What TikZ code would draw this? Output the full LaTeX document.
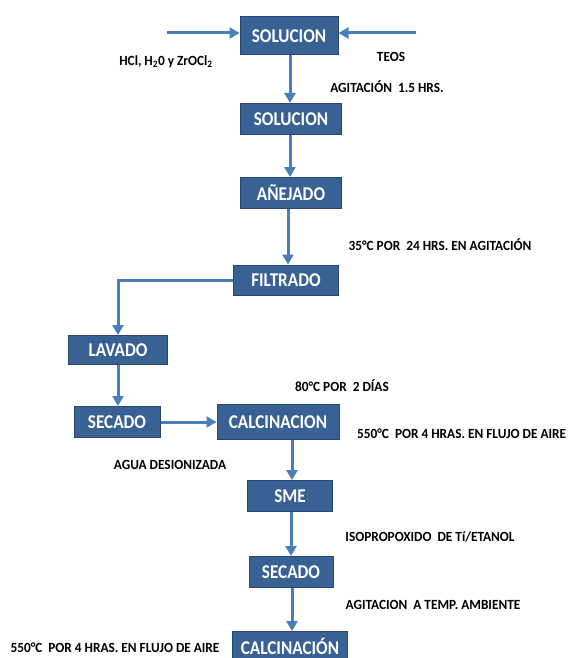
\documentclass[tikz,border=0pt]{standalone}
\usepackage{fontspec}
\usepackage{graphicx}
\setmainfont{Carlito}
\usetikzlibrary{arrows.meta}
\definecolor{boxfill}{RGB}{56,97,148}
\definecolor{boxline}{RGB}{40,72,115}
\definecolor{arrowblue}{RGB}{74,126,187}
\newcommand{\bxt}[1]{\scalebox{0.88}[1]{#1}}
\newcommand{\lbt}[1]{\scalebox{0.95}[1]{#1}}
\tikzset{
  stepbox/.style={draw=boxline, line width=1pt, fill=boxfill, text=white,
    font=\fontsize{19.5}{22}\selectfont\bfseries, inner sep=0pt},
  lbl/.style={font=\fontsize{14}{16}\selectfont\bfseries, text=black, inner sep=0pt},
  arr/.style={draw=arrowblue, line width=3pt, -{Triangle[length=10pt,width=11pt]}},
}
\begin{document}
\begin{tikzpicture}[x=1pt,y=-1pt]
\useasboundingbox[fill=white] (0,0) rectangle (571,658);
% boxes
\node[stepbox, minimum width=98pt, minimum height=38pt] (s1) at (289,36) {\bxt{SOLUCION}};
\node[stepbox, minimum width=101pt, minimum height=31pt] (s2) at (291,119) {\bxt{SOLUCION}};
\node[stepbox, minimum width=101pt, minimum height=31pt] (anej) at (291,193) {\bxt{AÑEJADO}};
\node[stepbox, minimum width=105pt, minimum height=30pt] (filt) at (286,280) {\bxt{FILTRADO}};
\node[stepbox, minimum width=99pt, minimum height=29pt] (lav) at (118,350) {\bxt{LAVADO}};
\node[stepbox, minimum width=86pt, minimum height=31pt] (sec1) at (117,422) {\bxt{SECADO}};
\node[stepbox, minimum width=122pt, minimum height=35pt] (cal1) at (278,422) {\bxt{CALCINACION}};
\node[stepbox, minimum width=85pt, minimum height=31pt] (sme) at (290,496) {\bxt{SME}};
\node[stepbox, minimum width=84pt, minimum height=31pt] (sec2) at (291,572) {\bxt{SECADO}};
\node[stepbox, minimum width=115pt, minimum height=29pt] (cal2) at (290,646) {\bxt{CALCINACIÓN}};
% input arrows
\coordinate (inL) at (167,33);
\coordinate (inR) at (416,33);
\draw[arr] (inL) -- (inL -| s1.west);
\draw[arr] (inR) -- (inR -| s1.east);
% flow arrows
\draw[arr] (s1.south -| 290,0) -- (s2.north -| 290,0);
\draw[arr] (s2.south -| 290,0) -- (anej.north -| 290,0);
\draw[arr] (anej.south -| 288,0) -- (filt.north -| 288,0);
\draw[arr] (filt.west) -| (lav.north);
\draw[arr] (lav.south) -- (sec1.north -| lav.south);
\draw[arr] (sec1.east) -- (cal1.west);
\draw[arr] (cal1.south -| 292,0) -- (sme.north -| 292,0);
\draw[arr] (sme.south -| 291,0) -- (sec2.north -| 291,0);
\draw[arr] (sec2.south -| 292,0) -- (cal2.north -| 292,0);
% labels
\node[lbl] (l1) at (166,62) {\lbt{HCl, H\textsubscript{2}0 y ZrOCl\textsubscript{2}}};
\node[lbl] (l2) at (391,57) {\lbt{TEOS}};
\node[lbl] (l3) at (387,87) {\lbt{AGITACIÓN\ \ 1.5 HRS.}};
\node[lbl] (l4) at (440,245) {\lbt{35°C POR\ \ 24 HRS. EN AGITACIÓN}};
\node[lbl] (l5) at (342,386) {\lbt{80°C POR\ \ 2 DÍAS}};
\node[lbl, anchor=west] (l6) at (357,434) {\lbt{550°C\ \ POR 4 HRAS. EN FLUJO DE AIRE}};
\node[lbl] (l7) at (170,465) {\lbt{AGUA DESIONIZADA}};
\node[lbl] (l8) at (430,537) {\lbt{ISOPROPOXIDO\ \ DE Tí/ETANOL}};
\node[lbl] (l9) at (433,605) {\lbt{AGITACION\ \ A TEMP. AMBIENTE}};
\node[lbl] (l10) at (115,648) {\lbt{550°C\ \ POR 4 HRAS. EN FLUJO DE AIRE}};
\end{tikzpicture}
\end{document}
